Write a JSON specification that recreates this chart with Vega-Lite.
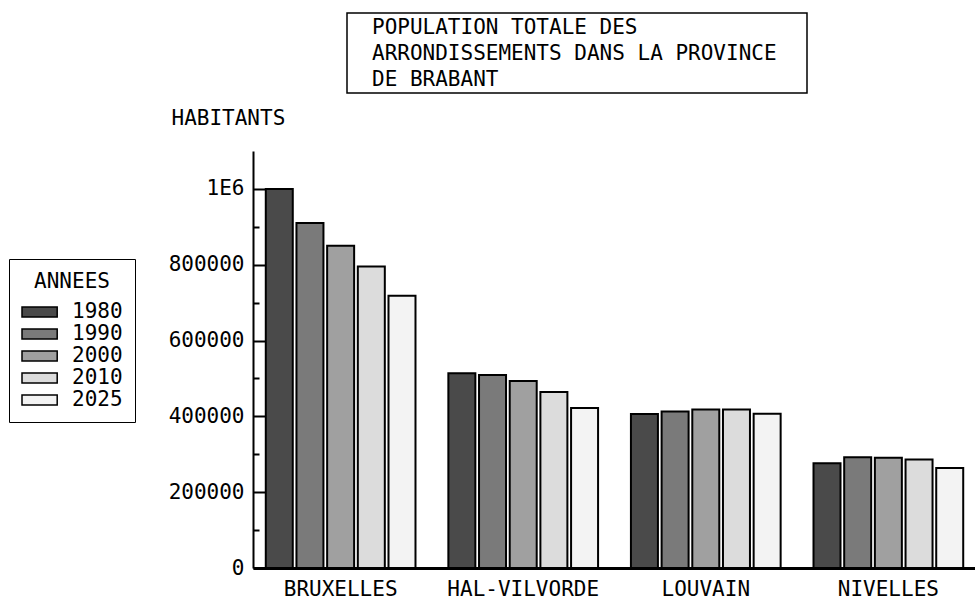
{
  "$schema": "https://vega.github.io/schema/vega-lite/v6.json",
  "padding": {"left": 8, "top": 12, "right": 0, "bottom": 0},
  "background": "white",
  "spacing": 13,
  "config": {
    "font": "DejaVu Sans Mono",
    "view": {"stroke": null},
    "axis": {"labelColor": "black", "titleColor": "black", "labelFont": "DejaVu Sans Mono", "titleFont": "DejaVu Sans Mono", "grid": false},
    "legend": {"labelColor": "black", "titleColor": "black", "labelFont": "DejaVu Sans Mono", "titleFont": "DejaVu Sans Mono"}
  },
  "vconcat": [
    {
      "spacing": 0,
      "hconcat": [
        {"width": 93, "height": 80, "data": {"values": []}, "mark": "point"},
        {
          "width": 460, "height": 80,
          "data": {"values": []},
          "mark": "point",
          "view": {"stroke": "black", "strokeWidth": 1.5},
          "title": {
            "text": ["POPULATION TOTALE DES", "ARRONDISSEMENTS DANS LA PROVINCE", "DE BRABANT"],
            "anchor": "start",
            "offset": -77,
            "dx": 25,
            "font": "DejaVu Sans Mono",
            "fontSize": 21,
            "fontWeight": "normal",
            "lineHeight": 26,
            "color": "black"
          }
        }
      ]
    },
    {
      "width": 723,
      "height": 417,
      "data": {"values": [
        {"arrondissement": "BRUXELLES", "annee": "1980", "habitants": 1000000},
        {"arrondissement": "BRUXELLES", "annee": "1990", "habitants": 910000},
        {"arrondissement": "BRUXELLES", "annee": "2000", "habitants": 850000},
        {"arrondissement": "BRUXELLES", "annee": "2010", "habitants": 795000},
        {"arrondissement": "BRUXELLES", "annee": "2025", "habitants": 718000},
        {"arrondissement": "HAL-VILVORDE", "annee": "1980", "habitants": 514000},
        {"arrondissement": "HAL-VILVORDE", "annee": "1990", "habitants": 509000},
        {"arrondissement": "HAL-VILVORDE", "annee": "2000", "habitants": 493000},
        {"arrondissement": "HAL-VILVORDE", "annee": "2010", "habitants": 464000},
        {"arrondissement": "HAL-VILVORDE", "annee": "2025", "habitants": 422000},
        {"arrondissement": "LOUVAIN", "annee": "1980", "habitants": 406000},
        {"arrondissement": "LOUVAIN", "annee": "1990", "habitants": 413000},
        {"arrondissement": "LOUVAIN", "annee": "2000", "habitants": 418000},
        {"arrondissement": "LOUVAIN", "annee": "2010", "habitants": 418000},
        {"arrondissement": "LOUVAIN", "annee": "2025", "habitants": 407000},
        {"arrondissement": "NIVELLES", "annee": "1980", "habitants": 276000},
        {"arrondissement": "NIVELLES", "annee": "1990", "habitants": 292000},
        {"arrondissement": "NIVELLES", "annee": "2000", "habitants": 291000},
        {"arrondissement": "NIVELLES", "annee": "2010", "habitants": 286000},
        {"arrondissement": "NIVELLES", "annee": "2025", "habitants": 264000}
      ]},
      "layer": [
        {
          "mark": {"type": "bar", "stroke": "black", "strokeWidth": 2},
          "encoding": {
            "x": {
              "field": "arrondissement", "type": "nominal",
              "sort": ["BRUXELLES", "HAL-VILVORDE", "LOUVAIN", "NIVELLES"],
              "scale": {"paddingInner": 0.18, "paddingOuter": 0.07},
              "axis": {"title": null, "labelAngle": 0, "ticks": false, "domainColor": "black", "domainWidth": 3, "labelFontSize": 21, "labelPadding": 10, "labelBaseline": "top"}
            },
            "xOffset": {"field": "annee", "type": "ordinal", "scale": {"paddingInner": 0.12}},
            "y": {
              "field": "habitants", "type": "quantitative",
              "scale": {"domain": [0, 1100000], "nice": false},
              "axis": {
                "values": [0, 200000, 400000, 600000, 800000, 1000000],
                "labelExpr": "datum.value == 1000000 ? '1E6' : format(datum.value, 'd')",
                "tickSize": -12, "labelPadding": 21, "tickColor": "black", "tickWidth": 2,
                "domainColor": "black", "domainWidth": 2, "labelFontSize": 21,
                "title": "HABITANTS", "titleAngle": 0, "titleAlign": "left", "titleBaseline": "alphabetic",
                "titleX": -82, "titleY": -27, "titleFontWeight": "normal", "titleFontSize": 21
              }
            },
            "fill": {
              "field": "annee", "type": "ordinal",
              "scale": {"domain": ["1980", "1990", "2000", "2010", "2025"], "range": ["#4a4a4a", "#7a7a7a", "#a0a0a0", "#dcdcdc", "#f3f3f3"]},
              "legend": {
                "title": "ANNEES", "orient": "none", "legendX": -244, "legendY": 246,
                "titleAnchor": "middle", "titleFontSize": 21, "titleFontWeight": "normal", "titlePadding": 8,
                "labelFontSize": 21, "strokeColor": "black", "padding": 12,
                "symbolType": "M-1,-0.45H2.2V0.45H-1Z", "symbolSize": 484,
                "symbolStrokeColor": "black", "symbolStrokeWidth": 1.5, "symbolOpacity": 1,
                "rowPadding": 0, "labelOffset": 27
              }
            }
          }
        },
        {
          "mark": {"type": "tick", "opacity": 0},
          "encoding": {
            "y": {
              "field": "habitants", "type": "quantitative",
              "axis": {
                "orient": "left",
                "values": [100000, 300000, 500000, 700000, 900000],
                "labels": false, "domain": false, "title": null,
                "tickSize": -6, "tickColor": "black", "tickWidth": 2
              }
            }
          }
        }
      ],
      "resolve": {"axis": {"y": "independent"}}
    }
  ]
}
